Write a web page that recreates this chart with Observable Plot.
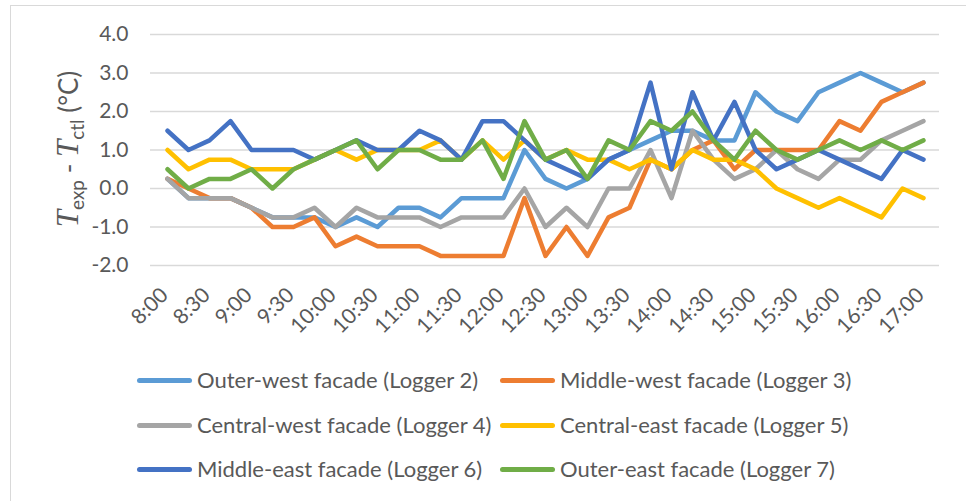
<!DOCTYPE html>
<html>
<head>
<meta charset="utf-8">
<script src="https://cdn.jsdelivr.net/npm/d3@7"></script>
<script src="https://cdn.jsdelivr.net/npm/@observablehq/plot@0.6"></script>
<style>
  html, body { margin: 0; padding: 0; background: #fff; }
  #wrap { position: relative; width: 966px; height: 501px; overflow: hidden; font-family: Lato, sans-serif; color: #595959; }
  #frame { position: absolute; left: 10px; top: 5px; width: 1200px; height: 1200px; border: 1px solid #d9d9d9; box-sizing: border-box; }
  #chart { position: absolute; left: 0; top: 0; }
  #legend { position: absolute; left: 0; top: 0; width: 966px; }
  .item { position: absolute; display: flex; align-items: center; font-size: 22px; white-space: nowrap; line-height: 1; }
  .sw { width: 55px; height: 5px; border-radius: 3px; margin-right: 5px; }
</style>
</head>
<body>
<div id="wrap">
  <div id="frame"></div>
  <div id="chart"></div>
  <div id="legend"></div>
</div>
<script>
const times = ["8:00","8:15","8:30","8:45","9:00","9:15","9:30","9:45","10:00","10:15","10:30","10:45",
  "11:00","11:15","11:30","11:45","12:00","12:15","12:30","12:45","13:00","13:15","13:30","13:45",
  "14:00","14:15","14:30","14:45","15:00","15:15","15:30","15:45","16:00","16:15","16:30","16:45","17:00"];
const xTickLabels = ["8:00","8:30","9:00","9:30","10:00","10:30","11:00","11:30","12:00","12:30","13:00",
  "13:30","14:00","14:30","15:00","15:30","16:00","16:30","17:00"];
const yTicks = [-2, -1, 0, 1, 2, 3, 4];

const seriesNames = ["Outer-west facade (Logger 2)","Middle-west facade (Logger 3)","Central-west facade (Logger 4)",
  "Central-east facade (Logger 5)","Middle-east facade (Logger 6)","Outer-east facade (Logger 7)"];
const seriesColors = ["#5B9BD5","#ED7D31","#A5A5A5","#FFC000","#4472C4","#70AD47"];

const logger2 = [0.25,-0.25,-0.25,-0.25,-0.5,-0.75,-0.75,-0.75,-1.0,-0.75,-1.0,-0.5,
  -0.5,-0.75,-0.25,-0.25,-0.25,1.0,0.25,0.0,0.25,0.75,1.0,1.25,
  1.5,1.5,1.25,1.25,2.5,2.0,1.75,2.5,2.75,3.0,2.75,2.5,2.75];
const logger3 = [0.25,0.0,-0.25,-0.25,-0.5,-1.0,-1.0,-0.75,-1.5,-1.25,-1.5,-1.5,
  -1.5,-1.75,-1.75,-1.75,-1.75,-0.25,-1.75,-1.0,-1.75,-0.75,-0.5,0.75,
  0.5,1.0,1.25,0.5,1.0,1.0,1.0,1.0,1.75,1.5,2.25,2.5,2.75];
const logger4 = [0.25,-0.25,-0.25,-0.25,-0.5,-0.75,-0.75,-0.5,-1.0,-0.5,-0.75,-0.75,
  -0.75,-1.0,-0.75,-0.75,-0.75,0.0,-1.0,-0.5,-1.0,0.0,0.0,1.0,
  -0.25,1.5,0.75,0.25,0.5,1.0,0.5,0.25,0.75,0.75,1.25,1.5,1.75];
const logger5 = [1.0,0.5,0.75,0.75,0.5,0.5,0.5,0.75,1.0,0.75,1.0,1.0,
  1.0,1.25,0.75,1.25,0.75,1.25,0.75,1.0,0.75,0.75,0.5,0.75,
  0.5,1.0,0.75,0.75,0.5,0.0,-0.25,-0.5,-0.25,-0.5,-0.75,0.0,-0.25];
const logger6 = [1.5,1.0,1.25,1.75,1.0,1.0,1.0,0.75,1.0,1.25,1.0,1.0,
  1.5,1.25,0.75,1.75,1.75,1.25,0.75,0.5,0.25,0.75,1.0,2.75,
  0.5,2.5,1.25,2.25,1.0,0.5,0.75,1.0,0.75,0.5,0.25,1.0,0.75];
const logger7 = [0.5,0.0,0.25,0.25,0.5,0.0,0.5,0.75,1.0,1.25,0.5,1.0,
  1.0,0.75,0.75,1.25,0.25,1.75,0.75,1.0,0.25,1.25,1.0,1.75,
  1.5,2.0,1.25,0.75,1.5,1.0,0.75,1.0,1.25,1.0,1.25,1.0,1.25];

const allValues = [logger2, logger3, logger4, logger5, logger6, logger7];
const data = seriesNames.flatMap((name, k) => times.map((t, i) => ({time: t, value: allValues[k][i], series: name})));

const chart = Plot.plot({
  width: 966,
  height: 350,
  marginLeft: 150,
  marginRight: 27,
  marginTop: 34,
  marginBottom: 85,
  style: {fontFamily: "Lato, sans-serif", fontSize: "21px", color: "#595959", background: "transparent", overflow: "visible"},
  x: {type: "point", domain: times, padding: 0.5, label: null},
  y: {domain: [-2, 4], label: null},
  color: {domain: seriesNames, range: seriesColors},
  marks: [
    Plot.ruleY(yTicks, {stroke: "#d9d9d9", strokeWidth: 1.5}),
    Plot.axisY({ticks: yTicks, tickSize: 0, tickPadding: 22, tickFormat: d => d.toFixed(1), label: null}),
    Plot.axisX({ticks: xTickLabels, tickSize: 0, tickRotate: -45, tickPadding: 26, dx: -3, label: null}),
    Plot.line(data, {x: "time", y: "value", z: "series", stroke: "series", strokeWidth: 4.5,
      strokeLinejoin: "round", strokeLinecap: "round"})
  ]
});
document.getElementById("chart").appendChild(chart);

// y-axis title with italic T and subscripts
const title = d3.select(chart).append("text")
  .attr("transform", "translate(78,149) rotate(-90)")
  .attr("text-anchor", "middle")
  .attr("fill", "#595959")
  .style("font-family", "Lato, sans-serif")
  .style("font-size", "26px");
title.append("tspan").style("font-family", "'Liberation Serif', serif").style("font-style", "italic").style("font-size", "31px").text("T");
title.append("tspan").attr("dy", 6).style("font-size", "19px").text("exp");
title.append("tspan").attr("dy", -6).text(" - ");
title.append("tspan").style("font-family", "'Liberation Serif', serif").style("font-style", "italic").style("font-size", "31px").text("T");
title.append("tspan").attr("dy", 6).style("font-size", "19px").text("ctl");
title.append("tspan").attr("dy", -6).text(" (°C)");

// legend
const legend = document.getElementById("legend");
const cols = [137, 500];
const rows = [380, 425, 469];
seriesNames.forEach((name, k) => {
  const item = document.createElement("div");
  item.className = "item";
  item.style.left = cols[k % 2] + "px";
  item.style.top = (rows[Math.floor(k / 2)] - 12) + "px";
  item.style.height = "24px";
  const sw = document.createElement("div");
  sw.className = "sw";
  sw.style.background = seriesColors[k];
  const label = document.createElement("span");
  label.textContent = name;
  item.appendChild(sw);
  item.appendChild(label);
  legend.appendChild(item);
});
</script>
</body>
</html>
